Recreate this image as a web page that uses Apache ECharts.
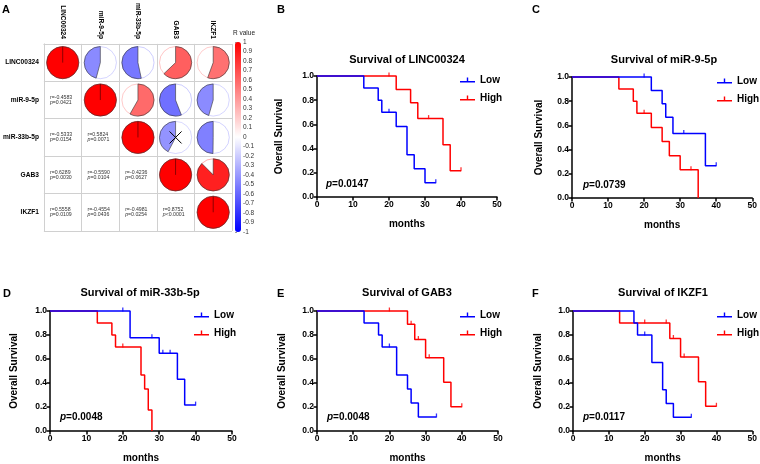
<!DOCTYPE html>
<html><head><meta charset="utf-8">
<script src="https://cdn.jsdelivr.net/npm/echarts@6/dist/echarts.min.js"></script>
<style>html,body{margin:0;padding:0;background:#fff}#c{width:760px;height:464px}</style>
</head><body><div id="c"></div>
<script>
// ---------- DATA ----------
const genes = ['LINC00324', 'miR-9-5p', 'miR-33b-5p', 'GAB3', 'IKZF1'];
const corrR = [
  [1, -0.4583, -0.5333, 0.6289, 0.5558],
  [-0.4583, 1, 0.5824, -0.5590, -0.4554],
  [-0.5333, 0.5824, 1, -0.4236, -0.4981],
  [0.6289, -0.5590, -0.4236, 1, 0.8752],
  [0.5558, -0.4554, -0.4981, 0.8752, 1]
];
const corrP = [
  ['', '0.0421', '0.0154', '0.0030', '0.0109'],
  ['0.0421', '', '0.0071', '0.0104', '0.0436'],
  ['0.0154', '0.0071', '', '0.0627', '0.0254'],
  ['0.0030', '0.0104', '0.0627', '', '<0.0001'],
  ['0.0109', '0.0436', '0.0254', '<0.0001', '']
];

// Kaplan-Meier curves: [months, survival]
const bLow = [[0,1],[13,0.9],[17,0.8],[18,0.7],[22,0.583],[25,0.35],[27,0.233],[30,0.117],[33,0.117]];
const bLowCens = [[20,0.7],[33,0.117]];
const bHigh = [[0,1],[22,0.889],[26,0.778],[28,0.648],[35,0.432],[37,0.216],[40,0.216]];
const bHighCens = [[20,1],[31,0.648],[40,0.216]];

const cLow = [[0,1],[22,0.889],[25,0.778],[26,0.667],[28,0.533],[37,0.267],[40,0.267]];
const cLowCens = [[20,1],[31,0.533],[40,0.267]];
const cHigh = [[0,1],[13,0.9],[17,0.8],[18,0.7],[22,0.583],[25,0.467],[27,0.35],[30,0.233],[35,0]];
const cHighCens = [[20,0.7],[33,0.233]];

const dLow = [[0,1],[22,0.778],[30,0.648],[35,0.432],[37,0.216],[40,0.216]];
const dLowCens = [[20,1],[28,0.778],[31,0.648],[33,0.648],[40,0.216]];
const dHigh = [[0,1],[13,0.9],[17,0.8],[18,0.7],[25,0.467],[26,0.35],[27,0.175],[28,0]];
const dHighCens = [[20,0.7]];

const eLow = [[0,1],[13,0.9],[17,0.8],[18,0.7],[22,0.467],[25,0.35],[26,0.233],[28,0.117],[33,0.117]];
const eLowCens = [[20,0.7],[33,0.117]];
const eHigh = [[0,1],[25,0.889],[27,0.762],[30,0.61],[35,0.407],[37,0.203],[40,0.203]];
const eHighCens = [[20,1],[26,0.889],[28,0.762],[31,0.61],[40,0.203]];

const fLow = [[0,1],[17,0.9],[18,0.8],[22,0.571],[25,0.343],[26,0.229],[28,0.114],[33,0.114]];
const fLowCens = [[20,0.8],[33,0.114]];
const fHigh = [[0,1],[13,0.9],[27,0.771],[30,0.617],[35,0.411],[37,0.206],[40,0.206]];
const fHighCens = [[20,0.9],[26,0.9],[28,0.771],[31,0.617],[40,0.206]];

const titles = ['Survival of LINC00324', 'Survival of miR-9-5p', 'Survival of miR-33b-5p', 'Survival of GAB3', 'Survival of IKZF1'];
const pValues = ['0.0147', '0.0739', '0.0048', '0.0048', '0.0117'];
const letters = ['B', 'C', 'D', 'E', 'F'];
const groupNames = ['Low', 'High'];

// ---------- LAYOUT ----------
const FONT = 'Liberation Sans, Arial, Helvetica, sans-serif';
const BLUE = '#0000ff', RED = '#ff0000';
const panels = [
  {low: bLow, lowC: bLowCens, high: bHigh, highC: bHighCens, grid: {left: 317, top: 76, width: 180, height: 121}, nameGap: 33, title: [407, 60], letter: [277, 10], p: [326, 184], leg: [460, 75]},
  {low: cLow, lowC: cLowCens, high: cHigh, highC: cHighCens, grid: {left: 572, top: 77, width: 185, height: 121}, nameGap: 28, title: [664, 60], letter: [532, 10], p: [583, 185], leg: [717, 76]},
  {low: dLow, lowC: dLowCens, high: dHigh, highC: dHighCens, grid: {left: 50, top: 311, width: 182, height: 121}, nameGap: 31, title: [140, 293], letter: [3, 294], p: [60, 417], leg: [194, 310]},
  {low: eLow, lowC: eLowCens, high: eHigh, highC: eHighCens, grid: {left: 317, top: 311, width: 181, height: 121}, nameGap: 30, title: [407, 293], letter: [277, 294], p: [327, 417], leg: [460, 310]},
  {low: fLow, lowC: fLowCens, high: fHigh, highC: fHighCens, grid: {left: 573, top: 311, width: 182, height: 121}, nameGap: 30, title: [663, 293], letter: [532, 294], p: [583, 417], leg: [717, 310]}
];

// ---------- MATRIX CELLS ----------
const cells = [];
for (let row = 0; row < genes.length; row++) {
  for (let col = 0; col < genes.length; col++) {
    cells.push({col, row, r: corrR[row][col], p: corrP[row][col]});
  }
}

function renderCell(params, api) {
  const c = cells[params.dataIndex];
  const pt = api.coord([c.col, c.row]);
  const sz = api.size([1, 1]);
  const cx = pt[0], cy = pt[1];
  if (c.col >= c.row) {
    const R = Math.min(sz[0], sz[1]) * 0.43;
    const color = api.visual('color');
    const ch = [{type: 'circle', shape: {cx, cy, r: R}, style: {fill: '#fff', stroke: echarts.color.modifyAlpha(color, 0.45), lineWidth: 0.8}}];
    const a = Math.abs(c.r);
    const s = -Math.PI / 2;
    if (a >= 0.9999) {
      ch.push({type: 'circle', shape: {cx, cy, r: R}, style: {fill: color, stroke: '#333', lineWidth: 0.6}});
      ch.push({type: 'line', shape: {x1: cx, y1: cy, x2: cx, y2: cy - R}, style: {stroke: '#5a0000', lineWidth: 0.7}});
    } else {
      ch.push({type: 'sector', shape: {cx, cy, r0: 0, r: R, startAngle: s, endAngle: c.r > 0 ? s + 2 * Math.PI * a : s - 2 * Math.PI * a, clockwise: c.r > 0},
        style: {fill: color, stroke: '#333', lineWidth: 0.6}});
    }
    if (c.p && parseFloat(c.p.replace('<', '')) > 0.05) {
      const d = 6;
      ch.push({type: 'line', shape: {x1: cx - d, y1: cy - d, x2: cx + d, y2: cy + d}, style: {stroke: '#000', lineWidth: 1}});
      ch.push({type: 'line', shape: {x1: cx - d, y1: cy + d, x2: cx + d, y2: cy - d}, style: {stroke: '#000', lineWidth: 1}});
    }
    return {type: 'group', children: ch};
  }
  const pTxt = c.p.charAt(0) === '<' ? c.p : '=' + c.p;
  return {
    type: 'text', x: cx - sz[0] / 2 + 6, y: cy,
    style: {
      text: '{a|r=' + c.r.toFixed(4) + '}\n{b|p}{a|' + pTxt + '}',
      verticalAlign: 'middle', align: 'left',
      rich: {
        a: {fontSize: 5.2, lineHeight: 5, fill: '#333', fontFamily: FONT},
        b: {fontSize: 5.2, lineHeight: 5, fill: '#333', fontStyle: 'italic', fontFamily: FONT}
      }
    }
  };
}

// ---------- OPTION ----------
const grids = [
  {left: 42, top: 42, width: 190, height: 189},
  {left: 235, top: 42, width: 6, height: 190}
];
const xAxes = [
  {gridIndex: 0, type: 'category', data: genes, position: 'top',
    axisLine: {lineStyle: {color: '#d0d0d0', width: 1}}, axisTick: {show: false},
    axisLabel: {rotate: 90, fontSize: 6.6, fontWeight: 'bold', margin: 5, color: '#000', fontFamily: FONT},
    splitLine: {show: true, lineStyle: {color: '#d0d0d0', width: 1}}},
  {gridIndex: 1, type: 'value', show: false, min: 0, max: 1}
];
const yAxes = [
  {gridIndex: 0, type: 'category', data: genes, inverse: true,
    axisLine: {lineStyle: {color: '#d0d0d0', width: 1}}, axisTick: {show: false},
    axisLabel: {fontSize: 6.6, fontWeight: 'bold', margin: 5, color: '#000', fontFamily: FONT},
    splitLine: {show: true, lineStyle: {color: '#d0d0d0', width: 1}}},
  {gridIndex: 1, type: 'value', min: -1, max: 1, interval: 0.1, position: 'right',
    axisLine: {show: false}, axisTick: {show: true, length: 2, lineStyle: {color: '#555', width: 0.6}},
    splitLine: {show: false},
    axisLabel: {fontSize: 6.5, margin: 2, color: '#333', fontFamily: FONT, formatter: v => String(Math.round(v * 10) / 10)}}
];
const series = [{
  type: 'custom', xAxisIndex: 0, yAxisIndex: 0, renderItem: renderCell,
  data: cells.map(c => [c.col, c.row, c.r]), silent: true, clip: false
}];
const legends = [];
const graphics = [
  {type: 'text', x: 2, y: 10, style: {text: 'A', fontSize: 11, fontWeight: 'bold', fill: '#000', fontFamily: FONT, verticalAlign: 'middle'}},
  {type: 'text', x: 233, y: 33, style: {text: 'R value', fontSize: 6.5, fill: '#222', fontFamily: FONT, verticalAlign: 'middle'}}
];

panels.forEach((pn, i) => {
  const gi = i + 2;
  grids.push(pn.grid);
  xAxes.push({gridIndex: gi, type: 'value', min: 0, max: 50, interval: 10,
    name: 'months', nameLocation: 'middle', nameGap: 22,
    nameTextStyle: {fontSize: 10, fontWeight: 'bold', color: '#000', fontFamily: FONT},
    axisLine: {lineStyle: {color: '#000', width: 1.5}},
    axisTick: {length: 3.5, lineStyle: {color: '#000', width: 1.5}},
    axisLabel: {fontSize: 8.5, fontWeight: 'bold', color: '#000', margin: 3, fontFamily: FONT},
    splitLine: {show: false}});
  yAxes.push({gridIndex: gi, type: 'value', min: 0, max: 1, interval: 0.2,
    name: 'Overall Survival', nameLocation: 'middle', nameGap: pn.nameGap, nameRotate: 90,
    nameTextStyle: {fontSize: 10, fontWeight: 'bold', color: '#000', fontFamily: FONT},
    axisLine: {show: true, lineStyle: {color: '#000', width: 1.5}},
    axisTick: {show: true, length: 3.5, lineStyle: {color: '#000', width: 1.5}},
    axisLabel: {fontSize: 8.5, fontWeight: 'bold', color: '#000', margin: 3, fontFamily: FONT, formatter: v => v.toFixed(1)},
    splitLine: {show: false}});
  const lineBase = {type: 'line', step: 'end', xAxisIndex: gi, yAxisIndex: gi, symbol: 'none', showSymbol: false, silent: true, clip: false};
  series.push(Object.assign({}, lineBase, {name: groupNames[1], data: pn.high, color: RED, itemStyle: {color: RED}, lineStyle: {color: RED, width: 1.5}}));
  series.push(Object.assign({}, lineBase, {name: groupNames[0], data: pn.low, color: BLUE, itemStyle: {color: BLUE}, lineStyle: {color: BLUE, width: 1.5}}));
  const cens = {type: 'scatter', xAxisIndex: gi, yAxisIndex: gi, symbol: 'rect', symbolSize: [1.3, 4], symbolOffset: [0, -1.5], silent: true, clip: false};
  series.push(Object.assign({}, cens, {name: 'High censored', data: pn.highC, itemStyle: {color: RED}}));
  series.push(Object.assign({}, cens, {name: 'Low censored', data: pn.lowC, itemStyle: {color: BLUE}}));
  legends.push({data: groupNames.slice(), left: pn.leg[0], top: pn.leg[1], orient: 'vertical', padding: 0,
    itemWidth: 15, itemHeight: 5, itemGap: 8, selectedMode: false,
    icon: 'path://M0,3.5H15V5H0Z M6.8,0H8.2V5H6.8Z',
    textStyle: {fontSize: 10, fontWeight: 'bold', color: '#000', fontFamily: FONT}});
  graphics.push({type: 'text', x: pn.title[0], y: pn.title[1], style: {text: titles[i], fontSize: 11, fontWeight: 'bold', fill: '#000', fontFamily: FONT, align: 'center', verticalAlign: 'middle'}});
  graphics.push({type: 'text', x: pn.letter[0], y: pn.letter[1], style: {text: letters[i], fontSize: 11, fontWeight: 'bold', fill: '#000', fontFamily: FONT, verticalAlign: 'middle'}});
  graphics.push({type: 'text', x: pn.p[0], y: pn.p[1], style: {text: '{i|p}{n|=' + pValues[i] + '}', verticalAlign: 'middle',
    rich: {i: {fontSize: 10, fontWeight: 'bold', fontStyle: 'italic', fill: '#000', fontFamily: FONT}, n: {fontSize: 10, fontWeight: 'bold', fill: '#000', fontFamily: FONT}}}});
});

const chart = echarts.init(document.getElementById('c'), null, {renderer: 'canvas'});
chart.setOption({
  animation: false,
  backgroundColor: '#fff',
  textStyle: {fontFamily: FONT},
  grid: grids, xAxis: xAxes, yAxis: yAxes,
  visualMap: [{type: 'continuous', min: -1, max: 1, seriesIndex: 0, dimension: 2, calculable: false, hoverLink: false,
    left: 235, top: 42, itemWidth: 6, itemHeight: 190, padding: 0, orient: 'vertical', text: null, showLabel: false,
    inRange: {color: [BLUE, '#ffffff', RED]}}],
  legend: legends,
  series: series,
  graphic: graphics
});
</script></body></html>
